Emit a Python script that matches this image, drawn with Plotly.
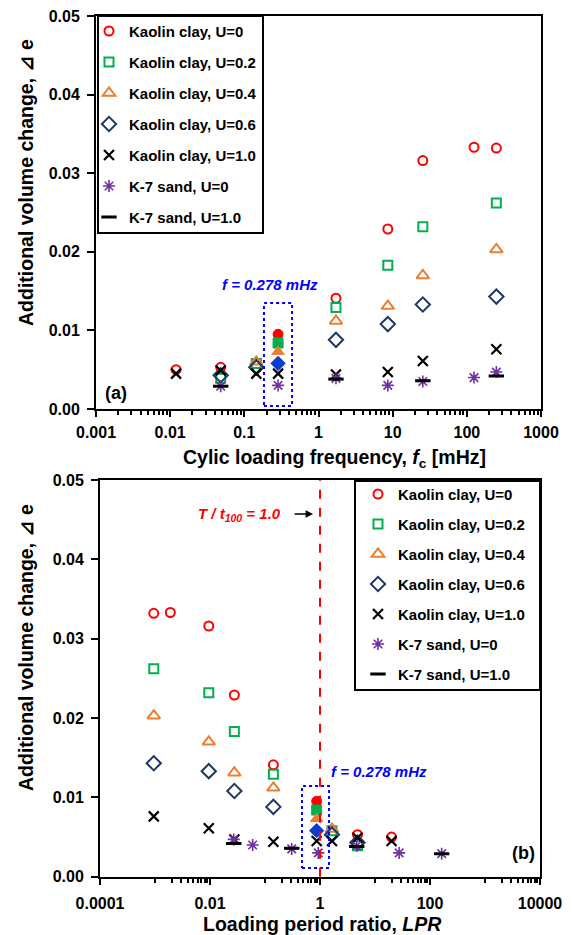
import math
import plotly.graph_objects as go

# ---------------- data ----------------
# Kaolin clay: cyclic loading frequency [mHz] and loading period ratio (same tests)
f_clay = [0.012, 0.048, 0.145, 0.285, 1.72, 8.6, 25.5, 125, 250]
lpr_clay = [20, 4.8, 1.65, 0.87, 0.142, 0.0277, 0.0095, 0.0019, 0.00095]
clay_u00 = [0.0050, 0.0053, None, None, 0.0141, 0.0229, 0.0316, 0.0333, 0.0332]
clay_u02 = [None, 0.0039, 0.0058, None, 0.0129, 0.0183, 0.0232, None, 0.0262]
clay_u04 = [None, None, 0.0060, None, 0.0112, 0.0131, 0.0170, None, 0.0203]
clay_u06 = [None, 0.0043, 0.0053, None, 0.0088, 0.0108, 0.0133, None, 0.0143]
clay_u10 = [0.0045, 0.0049, 0.0045, 0.0045, 0.0044, 0.0047, 0.0061, None, 0.0076]

# highlighted tests at f = 0.278 mHz (filled markers)
f_ref = [0.285]
lpr_ref = [0.87]
ref_u00 = [0.0095]
ref_u02 = [0.0084]
ref_u04 = [0.0073]
ref_u06 = [0.0058]

# K-7 sand
f_sand = [0.048, 0.285, 1.72, 8.6, 25.5, 125, 250]
lpr_sand = [163, 27.5, 4.65, 0.93, 0.306, 0.0596, 0.027]
sand_u00 = [0.0029, 0.0030, 0.0039, 0.0030, 0.0035, 0.0040, 0.0047]
sand_u10 = [0.0029, None, 0.0038, None, 0.0036, None, 0.0042]

names = ["Kaolin clay, U=0", "Kaolin clay, U=0.2", "Kaolin clay, U=0.4",
         "Kaolin clay, U=0.6", "Kaolin clay, U=1.0", "K-7 sand, U=0", "K-7 sand, U=1.0"]

top_ticks = [0.001, 0.01, 0.1, 1, 10, 100, 1000]
top_ticktext = ["0.001", "0.01", "0.1", "1", "10", "100", "1000"]
bot_ticks = [0.0001, 0.01, 1, 100, 10000]
bot_ticktext = ["0.0001", "0.01", "1", "100", "10000"]

# ---------------- styles ----------------
RED = "#FF0000"
GREEN = "#00B050"
ORANGE = "#ED7D31"
NAVY = "#1F3864"
BLUE = "#0A3CD0"
PURPLE = "#7030A0"
BLACK = "#000000"
FONT = "Liberation Sans, Arial, sans-serif"

styles = [
    dict(symbol="circle-open", color=RED, size=9, lw=2),
    dict(symbol="square-open", color=GREEN, size=9, lw=2),
    dict(symbol="triangle-up-open", color=ORANGE, size=11, lw=2),
    dict(symbol="diamond-open", color=NAVY, size=11, lw=2),
    dict(symbol="x-thin-open", color=BLACK, size=10, lw=2.2),
    dict(symbol="asterisk-open", color=PURPLE, size=10, lw=1.6),
    dict(symbol="line-ew-open", color=BLACK, size=11, lw=3),
]

fig = go.Figure()

clay_sets = [clay_u00, clay_u02, clay_u04, clay_u06, clay_u10]
sand_sets = [sand_u00, sand_u10]
ref_sets = [ref_u00, ref_u02, ref_u04, ref_u06]
ref_styles = [
    dict(symbol="circle", color=RED, size=10),
    dict(symbol="square", color=GREEN, size=10),
    dict(symbol="triangle-up", color=ORANGE, size=11),
    dict(symbol="diamond", color=BLUE, size=11),
]


def add_panel(xclay, xsand, xref, xa, ya, legend, prefix):
    for i in range(7):
        st = styles[i]
        if i < 5:
            xs, ys = xclay, clay_sets[i]
        else:
            xs, ys = xsand, sand_sets[i - 5]
        fig.add_trace(go.Scatter(
            x=xs, y=ys, mode="markers", name=names[i],
            xaxis=xa, yaxis=ya, legend=legend, legendgroup=f"{prefix}{i}",
            marker=dict(symbol=st["symbol"], color=st["color"], size=st["size"],
                        line=dict(color=st["color"], width=st["lw"])),
        ))
        if i < 4:
            rs = ref_styles[i]
            fig.add_trace(go.Scatter(
                x=xref, y=ref_sets[i], mode="markers", showlegend=False,
                xaxis=xa, yaxis=ya, legend=legend, legendgroup=f"{prefix}{i}",
                marker=dict(symbol=rs["symbol"], color=rs["color"], size=rs["size"],
                            line=dict(color=rs["color"], width=1)),
            ))


add_panel(f_clay, f_sand, f_ref, "x", "y", "legend", "t")
add_panel(lpr_clay, lpr_sand, lpr_ref, "x2", "y2", "legend2", "b")

# dotted boxes around the f = 0.278 mHz tests
fig.add_trace(go.Scatter(x=[0.184, 0.44, 0.44, 0.184, 0.184],
                         y=[0.00038, 0.00038, 0.01348, 0.01348, 0.00038],
                         mode="lines", showlegend=False, hoverinfo="skip",
                         xaxis="x", yaxis="y",
                         line=dict(color="#0000FF", width=2, dash="dot")))
fig.add_trace(go.Scatter(x=[0.47, 1.46, 1.46, 0.47, 0.47],
                         y=[0.0011, 0.0011, 0.01143, 0.01143, 0.0011],
                         mode="lines", showlegend=False, hoverinfo="skip",
                         xaxis="x2", yaxis="y2",
                         line=dict(color="#0000FF", width=2, dash="dot")))
# T/t100 = 1 line
fig.add_trace(go.Scatter(x=[1, 1], y=[0, 0.05], mode="lines", showlegend=False,
                         hoverinfo="skip", xaxis="x2", yaxis="y2",
                         line=dict(color=RED, width=2, dash="dash")))

W, H = 572, 935

axis_common = dict(showline=True, linecolor="black", linewidth=2, mirror=True,
                   showgrid=False, zeroline=False, ticks="outside",
                   tickcolor="black", tickwidth=2, automargin=False,
                   tickfont=dict(family=FONT, size=16, color="black", weight="bold"))

minor_top = [n * 10 ** k for k in range(-3, 3) for n in range(2, 10)]
minor_bot = [n * 10 ** (k + 1) for k in (-4, -2, 0, 2) for n in range(1, 10)]

legend_font = dict(family=FONT, size=15, color="black", weight="bold")

fig.update_layout(
    width=W, height=H,
    margin=dict(l=0, r=0, t=0, b=0, pad=0, autoexpand=False),
    paper_bgcolor="white", plot_bgcolor="white",
    font=dict(family=FONT, size=16, color="black", weight="bold"),
    xaxis=dict(domain=[96 / W, 541 / W], type="log", range=[-3, 3], anchor="y",
               tickmode="array", tickvals=top_ticks, ticktext=top_ticktext,
               ticklen=6, ticklabelstandoff=2,
               minor=dict(tickvals=minor_top, ticks="outside", ticklen=4,
                          tickwidth=1.5, tickcolor="black", showgrid=False),
               **axis_common),
    yaxis=dict(domain=[1 - 409 / H, 1 - 16 / H], range=[0, 0.05], anchor="x",
               dtick=0.01, tick0=0, tickformat=".2f", ticklen=7,
               ticklabelstandoff=4, **axis_common),
    xaxis2=dict(domain=[100 / W, 540 / W], type="log", range=[-4, 4], anchor="y2",
                tickmode="array", tickvals=bot_ticks, ticktext=bot_ticktext,
                ticklen=6, ticklabelstandoff=5,
                minor=dict(tickvals=minor_bot, ticks="outside", ticklen=4,
                           tickwidth=1.5, tickcolor="black", showgrid=False),
                **axis_common),
    yaxis2=dict(domain=[1 - 876.7 / H, 1 - 480 / H], range=[0, 0.05], anchor="x2",
                dtick=0.01, tick0=0, tickformat=".2f", ticklen=7,
                ticklabelstandoff=4, **axis_common),
    legend=dict(x=89 / W, y=1 - 14.75 / H, xanchor="left", yanchor="top",
                bgcolor="rgba(0,0,0,0)", borderwidth=0,
                tracegroupgap=8.5, traceorder="grouped", font=legend_font),
    legend2=dict(x=358 / W, y=1 - 477.75 / H, xanchor="left", yanchor="top",
                 bgcolor="rgba(0,0,0,0)", borderwidth=0,
                 tracegroupgap=7.5, traceorder="grouped", font=legend_font),
    shapes=[
        dict(type="rect", xref="paper", yref="paper", layer="above",
             x0=98 / W, x1=263 / W, y0=1 - 233 / H, y1=1 - 16 / H,
             fillcolor="white", line=dict(color="black", width=2)),
        dict(type="rect", xref="paper", yref="paper", layer="above",
             x0=355 / W, x1=540 / W, y0=1 - 690 / H, y1=1 - 481 / H,
             fillcolor="white", line=dict(color="black", width=2)),
    ],
)

title_font = dict(family=FONT, size=19.5, color="black", weight="bold")
ann = [
    # axis titles
    dict(text="Additional volume change, ⊿ e", x=26 / W, y=1 - 183 / H,
         xref="paper", yref="paper", xanchor="center", yanchor="middle",
         textangle=-90, showarrow=False, font=title_font),
    dict(text="Additional volume change, ⊿ e", x=26 / W, y=1 - 648 / H,
         xref="paper", yref="paper", xanchor="center", yanchor="middle",
         textangle=-90, showarrow=False, font=title_font),
    dict(text="Cylic loading frequency, <i>f</i><sub>c</sub> [mHz]", x=334 / W, y=1 - 458 / H,
         xref="paper", yref="paper", xanchor="center", yanchor="middle",
         showarrow=False, font=title_font),
    dict(text="Loading period ratio, <i>LPR</i>", x=322 / W, y=1 - 924 / H,
         xref="paper", yref="paper", xanchor="center", yanchor="middle",
         showarrow=False, font=title_font),
    # panel labels
    dict(text="(a)", x=0.016, y=0.04, xref="x domain", yref="y domain",
         xanchor="left", yanchor="middle", showarrow=False,
         font=dict(family=FONT, size=18, color="black", weight="bold")),
    dict(text="(b)", x=0.932, y=0.06, xref="x2 domain", yref="y2 domain",
         xanchor="left", yanchor="middle", showarrow=False,
         font=dict(family=FONT, size=18, color="black", weight="bold")),
    # f label
    dict(text="<i>f = 0.278 mHz</i>", x=math.log10(0.225), y=0.0159, xref="x", yref="y",
         xanchor="center", yanchor="middle",
         showarrow=False, font=dict(family=FONT, size=15, color="#0000FF", weight="bold")),
    dict(text="<i>f = 0.278 mHz</i>", x=math.log10(11.8), y=0.0132, xref="x2", yref="y2",
         xanchor="center", yanchor="middle",
         showarrow=False, font=dict(family=FONT, size=15, color="#0000FF", weight="bold")),
    dict(text="<i>T / t</i><sub><i>100</i></sub><i> = 1.0</i>", x=math.log10(0.0337), y=0.0457,
         xref="x2", yref="y2", xanchor="center", yanchor="middle", showarrow=False,
         font=dict(family=FONT, size=15, color=RED, weight="bold")),
    dict(text="", x=math.log10(0.75), y=0.0457, xref="x2", yref="y2",
         ax=-20, ay=0, showarrow=True, arrowhead=2, arrowsize=1, arrowwidth=1.5,
         arrowcolor="black"),
]
fig.update_layout(annotations=ann)

fig.write_html("out.html")
